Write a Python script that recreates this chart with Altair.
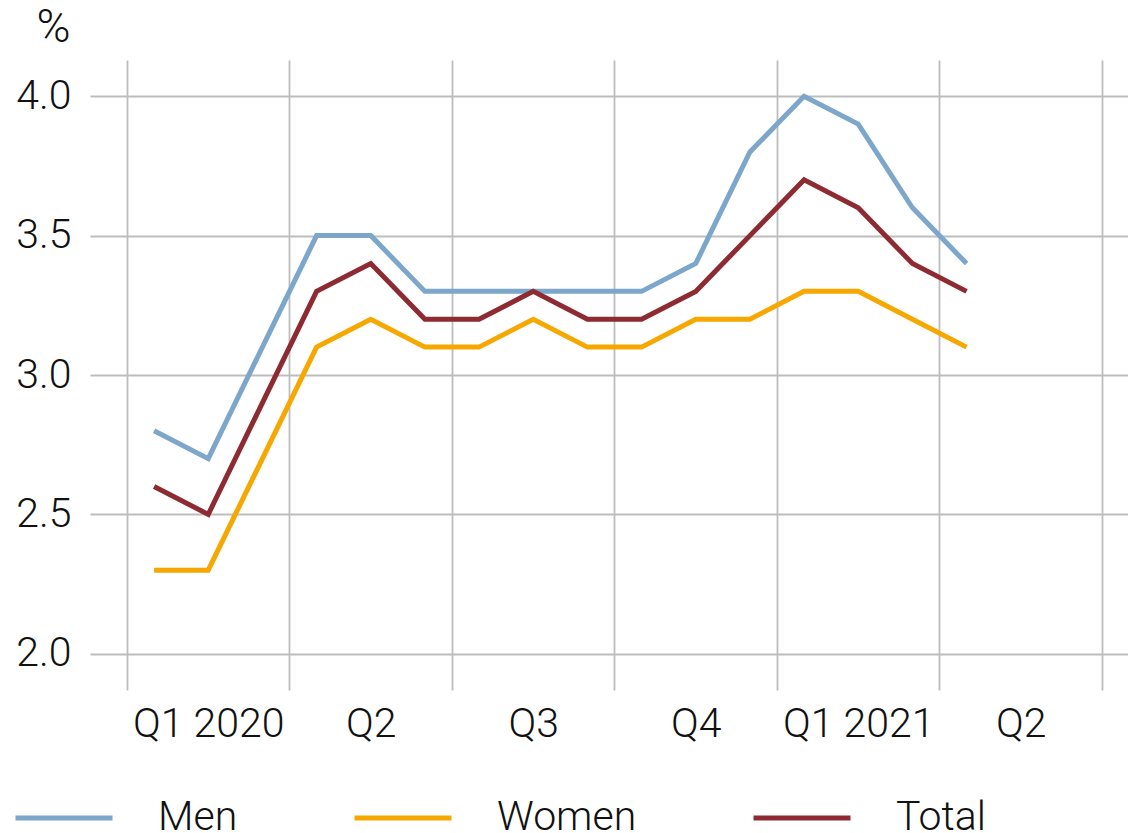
import altair as alt
import pandas as pd

months = list(range(16))  # Jan 2020 .. Apr 2021
men = [2.8, 2.7, 3.1, 3.5, 3.5, 3.3, 3.3, 3.3, 3.3, 3.3, 3.4, 3.8, 4.0, 3.9, 3.6, 3.4]
women = [2.3, 2.3, 2.7, 3.1, 3.2, 3.1, 3.1, 3.2, 3.1, 3.1, 3.2, 3.2, 3.3, 3.3, 3.2, 3.1]
total = [2.6, 2.5, 2.9, 3.3, 3.4, 3.2, 3.2, 3.3, 3.2, 3.2, 3.3, 3.5, 3.7, 3.6, 3.4, 3.3]

series_names = ["Men", "Women", "Total"]
series_colors = ["#7DA6CB", "#F6A800", "#8E2A32"]

quarter_label_pos = [1, 4, 7, 10, 13, 16]
quarter_labels = ["Q1 2020", "Q2", "Q3", "Q4", "Q1 2021", "Q2"]
quarter_bounds = [-0.5, 2.5, 5.5, 8.5, 11.5, 14.5, 17.5]

rows = []
for name, vals in zip(series_names, [men, women, total]):
    for m, v in zip(months, vals):
        rows.append({"month": m, "value": v, "series": name})
df = pd.DataFrame(rows)

label_map = "{" + ", ".join(f"'{p}': '{l}'" for p, l in zip(quarter_label_pos, quarter_labels)) + "}"
axis_values = sorted(quarter_bounds + quarter_label_pos)

FONT = "Roboto"

chart = alt.Chart(df).mark_line(strokeWidth=5, strokeJoin="miter").encode(
    x=alt.X(
        "month:Q",
        scale=alt.Scale(domain=[-1.183, 17.98], nice=False, zero=False),
        axis=alt.Axis(
            values=axis_values,
            labelExpr=f"{label_map}[toString(datum.value)] || ''",
            title=None,
            domain=False,
            ticks=False,
            tickSize=0,
            labelPadding=14,
            labelFontSize=41,
            labelFont=FONT,
            labelFontWeight=300,
            labelColor="#111111",
            labelFlush=False,
            labelOverlap=False,
            grid=True,
            gridColor="#BDBDBD",
            gridWidth=1.8,
            gridOpacity={"condition": {"test": "datum.value % 3 == 1", "value": 0}, "value": 1},
        ),
    ),
    y=alt.Y(
        "value:Q",
        scale=alt.Scale(domain=[1.87, 4.13], nice=False, zero=False),
        axis=alt.Axis(
            values=[2.0, 2.5, 3.0, 3.5, 4.0],
            format=".1f",
            title="%",
            titleAngle=0,
            titleFont=FONT,
            titleFontWeight=300,
            titleFontSize=46,
            titleColor="#111111",
            titleAlign="center",
            titleBaseline="alphabetic",
            titleX=-37,
            titleY=-19,
            domain=False,
            ticks=False,
            tickSize=0,
            labelPadding=19,
            labelFontSize=41,
            labelFont=FONT,
            labelFontWeight=300,
            labelColor="#111111",
            grid=True,
            gridColor="#BDBDBD",
            gridWidth=1.8,
        ),
    ),
    color=alt.Color(
        "series:N",
        scale=alt.Scale(domain=series_names, range=series_colors),
        legend=alt.Legend(
            title=None,
            orient="none",
            direction="horizontal",
            legendX=-77,
            legendY=707,
            symbolType="stroke",
            symbolSize=9409,
            symbolStrokeWidth=5,
            labelFontSize=41,
            labelFont=FONT,
            labelFontWeight=300,
            labelColor="#111111",
            labelOffset=43,
            columnPadding=106,
            padding=0,
        ),
    ),
).properties(
    width=1038,
    height=630,
    autosize=alt.AutoSizeParams(type="none"),
    padding={"left": 82, "top": 52, "right": 0, "bottom": 143},
).configure_view(stroke=None)

chart.save("out.html", embed_options={"renderer": "svg", "actions": False})
